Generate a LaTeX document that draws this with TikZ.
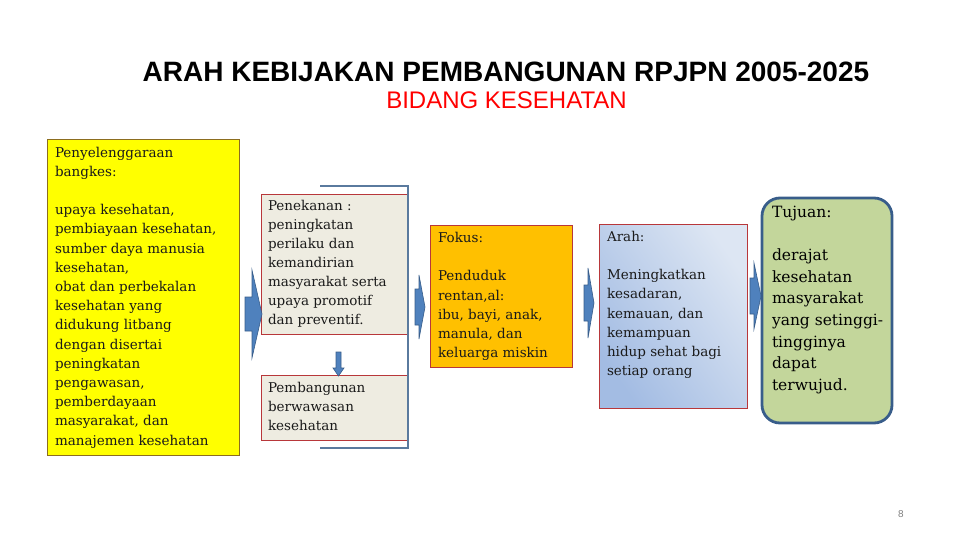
\documentclass[tikz,border=0pt]{standalone}
\usepackage{fontspec}
\setmainfont{DejaVu Serif}
\newfontfamily\titlefont{Liberation Sans}
\newfontfamily\tujfont{DejaVu Serif}
\definecolor{ylw}{HTML}{FFFF00}
\definecolor{ylwborder}{HTML}{8C6D1F}
\definecolor{beige}{HTML}{EEECE1}
\definecolor{redborder}{HTML}{B8373A}
\definecolor{orange}{HTML}{FFC000}
\definecolor{arahdark}{HTML}{A3BCE3}
\definecolor{arahlight}{HTML}{DDE6F3}
\definecolor{green}{HTML}{C3D69B}
\definecolor{navy}{HTML}{385D8A}
\definecolor{arrowblue}{HTML}{4F81BD}
\definecolor{bracket}{HTML}{5A7A9E}
\definecolor{txtc}{HTML}{1A1A1A}
\newcommand{\blockarr}[6]{%
  \path[arrowshape] (#1,{#4-#5}) -- (#2,{#4-#5}) -- (#2,{#4-#6}) -- (#3,#4)
    -- (#2,{#4+#6}) -- (#2,{#4+#5}) -- (#1,{#4+#5}) -- cycle;}
\begin{document}
\begin{tikzpicture}[x=1pt,y=-1pt,
  box/.style={anchor=north west, inner sep=0pt, outer sep=0pt, line width=0.9pt},
  txt/.style={anchor=north west, inner sep=0pt, outer sep=0pt, align=left, text=txtc},
  arrowshape/.style={fill=arrowblue, draw=navy, line width=0.6pt, line join=miter}]
\useasboundingbox (0,0) rectangle (960,540);

% titles
\node[font=\titlefont\bfseries\fontsize{28}{30}\selectfont, anchor=base] (title) at (506,82)
  {ARAH KEBIJAKAN PEMBANGUNAN RPJPN 2005-2025};
\node[font=\titlefont\fontsize{24}{26}\selectfont, text=red, anchor=base] (sub) at (506.5,109)
  {BIDANG KESEHATAN};

% boxes
\node[box, draw=ylwborder, fill=ylw, minimum width=191.5pt, minimum height=316pt] (ylwbox) at (47.5,139) {};
\node[box, draw=redborder, fill=beige, minimum width=147pt, minimum height=140pt] (pen) at (261,194) {};
\node[box, draw=redborder, fill=beige, minimum width=147pt, minimum height=65pt] (pem) at (261,375) {};
\node[box, draw=redborder, fill=orange, minimum width=142pt, minimum height=142pt] (fok) at (430,225) {};
\shade[left color=arahdark, right color=arahlight, shading angle=125] (599,224) rectangle (747,408);
\node[box, draw=redborder, minimum width=148pt, minimum height=184pt] (arah) at (599,224) {};
\node[box, draw=navy, fill=green, line width=2.8pt, rounded corners=18pt, minimum width=130pt, minimum height=225pt] (tuj) at (762,198) {};

% bracket line
\draw[bracket, line width=1.3pt] (320,186) -- (408,186) -- (408,448) -- (320,448);

% texts
\node[txt, font=\fontsize{13.5}{19.2}\selectfont] (ylwtxt) at (55,145) {\rule{0pt}{12pt}Penyelenggaraan\\
bangkes:\\[19.2pt]
upaya kesehatan,\\
pembiayaan kesehatan,\\
sumber daya manusia\\
kesehatan,\\
obat dan perbekalan\\
kesehatan yang\\
didukung litbang\\
dengan disertai\\
peningkatan\\
pengawasan,\\
pemberdayaan\\
masyarakat, dan\\
manajemen kesehatan};

\node[txt, font=\fontsize{13.5}{19}\selectfont] (pentxt) at (268,198.5) {\rule{0pt}{12pt}Penekanan :\\
peningkatan\\
perilaku dan\\
kemandirian\\
masyarakat serta\\
upaya promotif\\
dan preventif.};

\node[txt, font=\fontsize{13.5}{19}\selectfont] (pemtxt) at (268,380.5) {\rule{0pt}{12pt}Pembangunan\\
berwawasan\\
kesehatan};

\node[txt, font=\fontsize{13.5}{19.17}\selectfont] (foktxt) at (438,230.5) {\rule{0pt}{12pt}Fokus:\\[19.17pt]
Penduduk\\
rentan,al:\\
ibu, bayi, anak,\\
manula, dan\\
keluarga miskin};

\node[txt, font=\fontsize{13.5}{19.14}\selectfont] (arahtxt) at (607,229.5) {\rule{0pt}{12pt}Arah:\\[19.14pt]
Meningkatkan\\
kesadaran,\\
kemauan, dan\\
kemampuan\\
hidup sehat bagi\\
setiap orang};

\node[txt, text=black, font=\tujfont\fontsize{15.5}{21.6}\selectfont] (tujtxt) at (772,203.5) {\rule{0pt}{14pt}Tujuan:\\[21.6pt]
derajat\\
kesehatan\\
masyarakat\\
yang setinggi-\\
tingginya\\
dapat\\
terwujud.};

% arrows
\blockarr{245}{252}{262}{314}{17}{44}
\blockarr{415}{419}{425}{307}{18}{32}
\blockarr{584}{588}{594}{303}{18}{35}
\blockarr{750}{754}{761}{296}{18}{33}
\path[arrowshape] (336,352) -- (341,352) -- (341,368) -- (344,368) -- (338.5,376) -- (333,368) -- (336,368) -- cycle;

% page number
\node[font=\titlefont\fontsize{10}{12}\selectfont, text=gray] (pg) at (901,514) {8};
\end{tikzpicture}
\end{document}
